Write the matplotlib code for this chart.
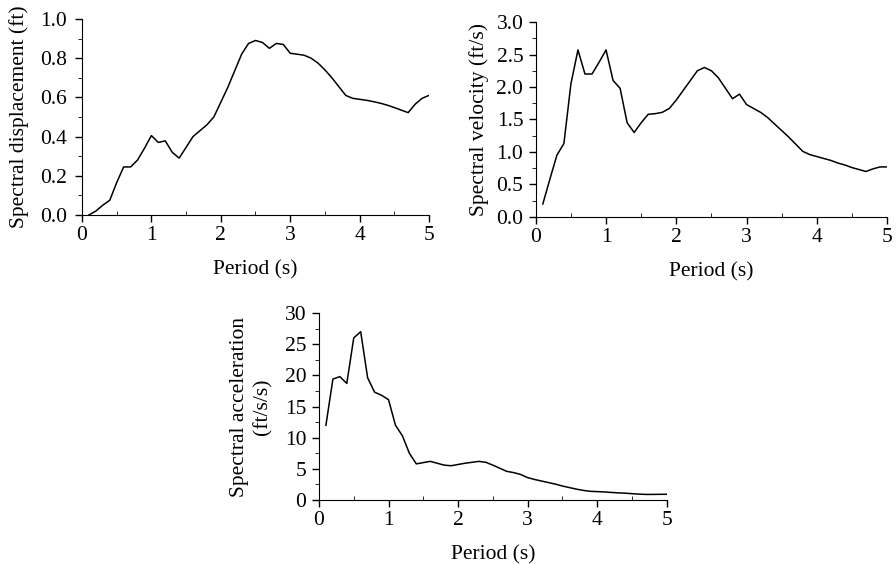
import matplotlib
matplotlib.use("Agg")
import matplotlib.pyplot as plt
import numpy as np
from matplotlib.ticker import MultipleLocator

plt.rcParams['font.family'] = ['Liberation Serif', 'DejaVu Serif']
plt.rcParams['font.size'] = 15.5

# okresy 0.1 .. 5.0 s
okres = [round(0.1 * i, 1) for i in range(1, 51)]

przemieszczenie = [0.0, 0.02, 0.05, 0.075, 0.165, 0.245, 0.245, 0.28, 0.34, 0.405,
                   0.37, 0.378, 0.32, 0.29, 0.345, 0.40, 0.43, 0.46, 0.50, 0.575,
                   0.65, 0.735, 0.82, 0.875, 0.89, 0.88, 0.85, 0.875, 0.87, 0.825,
                   0.82, 0.815, 0.80, 0.775, 0.74, 0.70, 0.655, 0.61, 0.595, 0.59,
                   0.585, 0.578, 0.57, 0.56, 0.548, 0.535, 0.522, 0.565, 0.595, 0.61]

predkosc = [0.2, 0.58, 0.95, 1.13, 2.05, 2.57, 2.2, 2.2, 2.38, 2.57,
            2.1, 1.98, 1.45, 1.3, 1.45, 1.58, 1.59, 1.61, 1.67, 1.8,
            1.95, 2.1, 2.25, 2.3, 2.25, 2.14, 1.98, 1.82, 1.89, 1.73,
            1.67, 1.61, 1.53, 1.43, 1.33, 1.23, 1.12, 1.01, 0.96, 0.93,
            0.9, 0.87, 0.83, 0.8, 0.76, 0.73, 0.7, 0.74, 0.77, 0.77]

przyspieszenie = [12.0, 19.4, 19.8, 18.7, 26.0, 27.0, 19.6, 17.3, 16.8, 16.1,
                  12.0, 10.3, 7.5, 5.8, 6.0, 6.2, 5.9, 5.6, 5.5, 5.7,
                  5.9, 6.05, 6.2, 6.05, 5.6, 5.1, 4.6, 4.4, 4.1, 3.6,
                  3.3, 3.05, 2.8, 2.55, 2.25, 2.0, 1.75, 1.55, 1.4, 1.35,
                  1.3, 1.22, 1.15, 1.1, 1.02, 0.95, 0.9, 0.9, 0.92, 0.92]

fig = plt.figure(figsize=(8.96, 5.65), dpi=100)


def rysuj(pozycja, dane, ymax, krokY, minorY, etykieta, format_y, odstep, padY):
    ax = fig.add_axes(pozycja)
    ax.plot(okres, dane, color="black", lw=1.1)
    ax.set_xlim(0, 5)
    ax.set_ylim(0, ymax)
    ax.spines['top'].set_visible(False)
    ax.spines['right'].set_visible(False)
    ax.xaxis.set_major_locator(MultipleLocator(1))
    ax.xaxis.set_minor_locator(MultipleLocator(0.5))
    ax.yaxis.set_minor_locator(MultipleLocator(minorY))
    ax.set_yticks(np.arange(0, ymax + krokY / 2, krokY))
    ax.set_yticklabels([format_y.format(v) for v in np.arange(0, ymax + krokY / 2, krokY)])
    ax.tick_params(axis='both', which='major', direction='out', length=5, width=1)
    ax.tick_params(axis='x', which='major', pad=3)
    ax.tick_params(axis='y', which='major', pad=padY)
    ax.tick_params(axis='x', which='minor', direction='in', length=3)
    ax.tick_params(axis='y', which='minor', direction='out', length=3)
    ax.set_xlabel("Period (s)", labelpad=11)
    ax.set_ylabel(etykieta, labelpad=odstep, linespacing=1.3)
    return ax


rysuj([0.0915, 0.6195, 0.3873, 0.347], przemieszczenie, 1.0, 0.2, 0.1,
      "Spectral displacement (ft)", "{:.1f}", 8, 6)
rysuj([0.598, 0.616, 0.392, 0.345], predkosc, 3.0, 0.5, 0.25,
      "Spectral velocity (ft/s)", "{:.1f}", 5, 4)
rysuj([0.356, 0.115, 0.388, 0.331], przyspieszenie, 30, 5, 2.5,
      "Spectral acceleration\n(ft/s/s)", "{:.0f}", 9, 4)

plt.savefig("out.png", dpi=100)
plt.close()
